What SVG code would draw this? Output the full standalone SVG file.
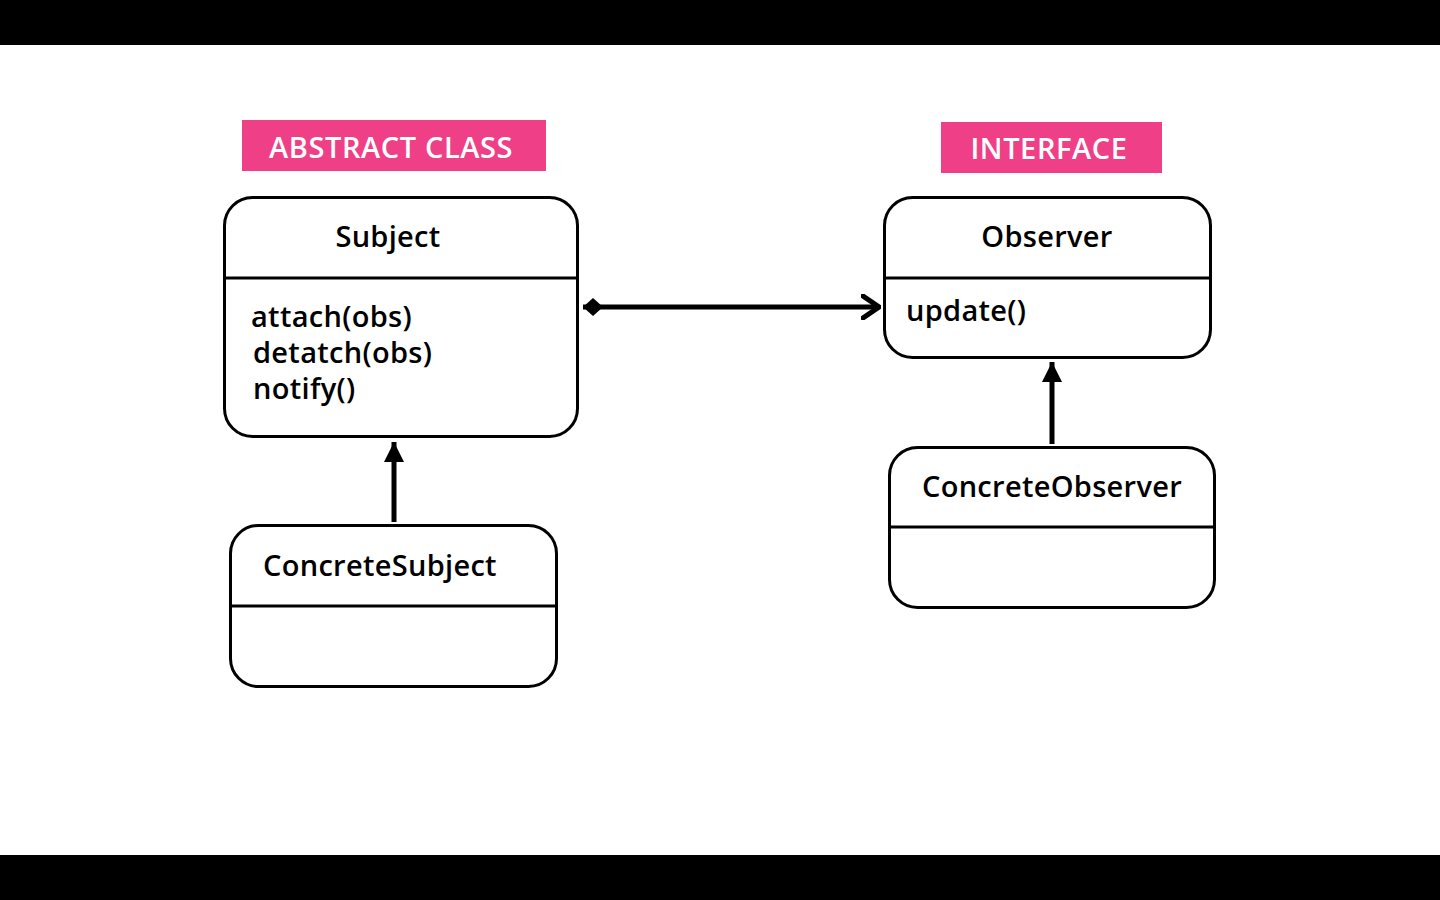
<svg xmlns="http://www.w3.org/2000/svg" width="1440" height="900" viewBox="0 0 1440 900">
<defs>
<style>
.bar{fill:#000}
.tag{fill:#EF3F86}
.tagt{fill:#fff;font-family:"Open Sans","Liberation Sans",sans-serif;font-size:29px;font-weight:600;letter-spacing:0.6px}
.box{fill:#fff;stroke:#000;stroke-width:3}
.div{stroke:#000;stroke-width:3}
.t{fill:#000;font-family:"Open Sans","Liberation Sans",sans-serif;font-size:29px;font-weight:600;letter-spacing:0.3px}
.c{stroke:#000;stroke-width:5;fill:none}
</style>
<marker id="tri" viewBox="0 0 20 20" refX="20" refY="10" markerWidth="20" markerHeight="20" markerUnits="userSpaceOnUse" orient="auto">
<path d="M0,0 L20,10 L0,20 Z" fill="#000"/>
</marker>
<marker id="open" viewBox="0 0 20 26" refX="18" refY="13" markerWidth="20" markerHeight="26" markerUnits="userSpaceOnUse" orient="auto">
<path d="M2,2 L18,13 L2,24" fill="none" stroke="#000" stroke-width="5" stroke-linecap="square"/>
</marker>
<marker id="dia" viewBox="0 0 20 20" refX="0" refY="10" markerWidth="20" markerHeight="20" markerUnits="userSpaceOnUse" orient="auto">
<path d="M0,10 L10,1 L20,10 L10,19 Z" fill="#000"/>
</marker>
</defs>
<rect x="0" y="0" width="1440" height="900" fill="#fff"/>
<rect class="bar" x="0" y="0" width="1440" height="45"/>
<rect class="bar" x="0" y="855" width="1440" height="45"/>

<g id="label-abstract">
<rect class="tag" x="242" y="120" width="304" height="51"/>
<text class="tagt" x="391" y="158" text-anchor="middle">ABSTRACT CLASS</text>
</g>
<g id="label-interface">
<rect class="tag" x="941" y="122" width="221" height="51"/>
<text class="tagt" x="1049" y="159" text-anchor="middle">INTERFACE</text>
</g>

<g id="subject">
<rect class="box" x="224.5" y="197.5" width="353" height="239" rx="28"/>
<line class="div" x1="224.5" y1="278" x2="577.5" y2="278"/>
<text class="t" x="388" y="247" text-anchor="middle">Subject</text>
<text class="t" x="251" y="327">attach(obs)</text>
<text class="t" x="253" y="363">detatch(obs)</text>
<text class="t" x="253" y="399">notify()</text>
</g>

<g id="concrete-subject">
<rect class="box" x="230.5" y="525.5" width="326" height="161" rx="28"/>
<line class="div" x1="230.5" y1="606" x2="556.5" y2="606"/>
<text class="t" x="263" y="576">ConcreteSubject</text>
</g>

<g id="observer">
<rect class="box" x="884.5" y="197.5" width="326" height="160" rx="28"/>
<line class="div" x1="884.5" y1="278" x2="1210.5" y2="278"/>
<text class="t" x="1047" y="247" text-anchor="middle">Observer</text>
<text class="t" x="906" y="321">update()</text>
</g>

<g id="concrete-observer">
<rect class="box" x="889.5" y="447.5" width="325" height="160" rx="28"/>
<line class="div" x1="889.5" y1="527" x2="1214.5" y2="527"/>
<text class="t" x="1052" y="497" text-anchor="middle">ConcreteObserver</text>
</g>

<g id="connectors">
<line class="c" x1="583" y1="307" x2="879" y2="307" marker-start="url(#dia)" marker-end="url(#open)"/>
<line class="c" x1="394" y1="522" x2="394" y2="442" marker-end="url(#tri)"/>
<line class="c" x1="1052" y1="444" x2="1052" y2="362" marker-end="url(#tri)"/>
</g>
</svg>
